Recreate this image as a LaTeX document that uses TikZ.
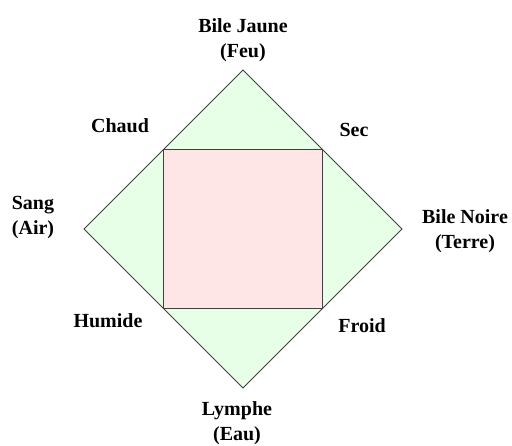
\documentclass[tikz,border=0pt]{standalone}
\usepackage{fontspec}
\setmainfont{Liberation Serif}
\usepackage{tikz}
\usetikzlibrary{positioning, calc}
\definecolor{vertpale}{HTML}{E6FFE6}
\definecolor{rosepale}{HTML}{FFE6E6}
\definecolor{trait}{HTML}{404040}
\tikzset{
  lbl/.style={font=\bfseries\fontsize{20}{25}\selectfont, inner sep=0pt, align=center},
  qual/.style={font=\bfseries\fontsize{20}{25}\selectfont, inner sep=0pt, anchor=base}
}

\begin{document}
\begin{tikzpicture}[x=1pt, y=-1pt, line width=1pt]
  \useasboundingbox (0,0) rectangle (512,446);
  % losange des humeurs
  \coordinate (haut) at (243,70);
  \coordinate (droite) at (402,229);
  \coordinate (bas) at (243,388);
  \coordinate (gauche) at (84,229);
  \draw[trait, fill=vertpale] (haut) -- (droite) -- (bas) -- (gauche) -- cycle;
  % carre des qualites
  \coordinate (chaud) at ($(haut)!0.5!(gauche)$);
  \coordinate (sec) at ($(haut)!0.5!(droite)$);
  \coordinate (froid) at ($(bas)!0.5!(droite)$);
  \coordinate (humide) at ($(bas)!0.5!(gauche)$);
  \draw[trait, fill=rosepale] (chaud) -- (sec) -- (froid) -- (humide) -- cycle;
  % humeurs et elements
  \node[lbl] (feu) at (243,40.4) {Bile Jaune\\(Feu)};
  \node[lbl] (air) at (33,217.4) {Sang\\(Air)};
  \node[lbl] (terre) at (465,231.4) {Bile Noire\\(Terre)};
  \node[lbl] (eau) at (237,423) {Lymphe\\(Eau)};
  % qualites
  \node[qual] (lchaud) at (120,133) {Chaud};
  \node[qual] (lsec) at (354,137) {Sec};
  \node[qual] (lhumide) at (108,328) {Humide};
  \node[qual] (lfroid) at (362,333) {Froid};
\end{tikzpicture}
\end{document}
